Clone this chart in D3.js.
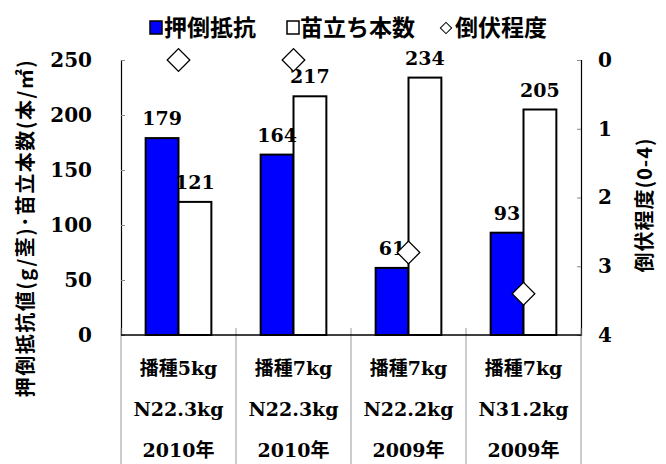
<!DOCTYPE html>
<html>
<head>
<meta charset="utf-8">
<script src="https://cdn.jsdelivr.net/npm/d3@7"></script>
<style>
  body { margin: 0; background: #fff; }
</style>
</head>
<body>
<script>
// data
var cats = ["c1", "c2", "c3", "c4"];
var row1 = ["播種5kg", "播種7kg", "播種7kg", "播種7kg"];
var row2 = ["N22.3kg", "N22.3kg", "N22.2kg", "N31.2kg"];
var row3 = ["2010年", "2010年", "2009年", "2009年"];
var oshitaoshi = [179, 164, 61, 93];   // 押倒抵抗
var naedachi = [121, 217, 234, 205];   // 苗立ち本数
var toufuku = [0, 0, 2.8, 3.4];        // 倒伏程度
var leftTicks = [0, 50, 100, 150, 200, 250];
var rightTicks = [0, 1, 2, 3, 4];

var W = 666, H = 464;
var plot = {left: 121, right: 581, top: 60, bottom: 335};
var serif = "'DejaVu Serif', 'Noto Sans CJK JP', serif";
var gothic = "'Noto Sans CJK JP', sans-serif";

var svg = d3.select("body").append("svg")
    .attr("width", W)
    .attr("height", H)
    .attr("font-weight", "bold");

var x = d3.scaleBand().domain(cats).range([plot.left, plot.right]);
var bw = x.bandwidth() / 3.5; // gap width 150%
var yL = d3.scaleLinear().domain([0, 250]).range([plot.bottom, plot.top]);
var yR = d3.scaleLinear().domain([0, 4]).range([plot.top, plot.bottom]); // reversed

// axes
var axL = d3.axisLeft(yL).tickValues(leftTicks).tickSize(-4).tickPadding(0).tickFormat(d3.format("d"));
var gL = svg.append("g").attr("transform", "translate(" + plot.left + ",0)").call(axL);
gL.attr("font-family", serif).attr("font-size", 20);
gL.select(".domain").attr("stroke", "#000").attr("stroke-width", 1.2);
gL.selectAll(".tick line").attr("stroke", "#888");
gL.selectAll(".tick text").attr("x", -29).attr("fill", "#000");

var axR = d3.axisRight(yR).tickValues(rightTicks).tickSize(-4).tickPadding(0).tickFormat(d3.format("d"));
var gR = svg.append("g").attr("transform", "translate(" + plot.right + ",0)").call(axR);
gR.attr("font-family", serif).attr("font-size", 20);
gR.select(".domain").attr("stroke", "#000").attr("stroke-width", 1.2);
gR.selectAll(".tick line").attr("stroke", "#888");
gR.selectAll(".tick text").attr("x", 17).attr("fill", "#000");

// category separators (multi-level labels)
var seps = [plot.left].concat(cats.map(function(c){ return x(c) + x.bandwidth(); }));
svg.selectAll(".sep").data(seps).enter().append("line")
    .attr("x1", function(d){ return d; }).attr("x2", function(d){ return d; })
    .attr("y1", plot.bottom - 7).attr("y2", H)
    .attr("stroke", "#999").attr("stroke-width", 1);
svg.append("line")
    .attr("x1", plot.left).attr("x2", plot.right)
    .attr("y1", plot.bottom).attr("y2", plot.bottom)
    .attr("stroke", "#000").attr("stroke-width", 1.5);

// bars
var g = svg.append("g");
g.selectAll(".b1").data(oshitaoshi).enter().append("rect")
    .attr("x", function(d, i){ return x(cats[i]) + x.bandwidth() / 2 - bw; })
    .attr("y", function(d){ return yL(d); })
    .attr("width", bw).attr("height", function(d){ return plot.bottom - yL(d); })
    .attr("fill", "#0000ff").attr("stroke", "#000").attr("stroke-width", 2);
g.selectAll(".b2").data(naedachi).enter().append("rect")
    .attr("x", function(d, i){ return x(cats[i]) + x.bandwidth() / 2; })
    .attr("y", function(d){ return yL(d); })
    .attr("width", bw).attr("height", function(d){ return plot.bottom - yL(d); })
    .attr("fill", "#fff").attr("stroke", "#000").attr("stroke-width", 2);

// value labels
g.selectAll(".l1").data(oshitaoshi).enter().append("text")
    .attr("x", function(d, i){ return x(cats[i]) + x.bandwidth() / 2 - bw / 2; })
    .attr("y", function(d){ return yL(d) - 13; })
    .attr("text-anchor", "middle").attr("font-family", serif).attr("font-size", 19)
    .text(function(d){ return d; });
g.selectAll(".l2").data(naedachi).enter().append("text")
    .attr("x", function(d, i){ return x(cats[i]) + x.bandwidth() / 2 + bw / 2; })
    .attr("y", function(d){ return yL(d) - 13; })
    .attr("text-anchor", "middle").attr("font-family", serif).attr("font-size", 19)
    .text(function(d){ return d; });

// diamonds
var sym = d3.symbol().type(d3.symbolSquare).size(16 * 16);
g.selectAll(".dm").data(toufuku).enter().append("path")
    .attr("d", sym)
    .attr("transform", function(d, i){
        return "translate(" + (x(cats[i]) + x.bandwidth() / 2) + "," + yR(d) + ") rotate(45)";
    })
    .attr("fill", "#fff").attr("stroke", "#000").attr("stroke-width", 1.3);

// category labels
[row1, row2, row3].forEach(function(row, k){
    svg.selectAll(".r" + k).data(row).enter().append("text")
        .attr("x", function(d, i){ return x(cats[i]) + x.bandwidth() / 2; })
        .attr("y", 375 + k * 41)
        .attr("text-anchor", "middle").attr("font-family", serif).attr("font-size", 19)
        .text(function(d){ return d; });
});

// axis titles
svg.append("text")
    .attr("transform", "translate(33,228) rotate(-90)")
    .attr("text-anchor", "middle").attr("font-family", gothic).attr("font-size", 20)
    .attr("letter-spacing", 1.5)
    .text("押倒抵抗値(g/茎)･苗立本数(本/㎡)");
svg.append("text")
    .attr("transform", "translate(652,205) rotate(-90)")
    .attr("text-anchor", "middle").attr("font-family", gothic).attr("font-size", 20)
    .attr("letter-spacing", 1)
    .text("倒伏程度(0-4)");

// legend
var lg = svg.append("g").attr("font-family", gothic).attr("font-size", 23);
lg.append("rect").attr("x", 150).attr("y", 21).attr("width", 12).attr("height", 13)
    .attr("fill", "#0000ff").attr("stroke", "#000").attr("stroke-width", 1.5);
lg.append("text").attr("x", 164).attr("y", 36).text("押倒抵抗");
lg.append("rect").attr("x", 287).attr("y", 21).attr("width", 12).attr("height", 13)
    .attr("fill", "#fff").attr("stroke", "#000").attr("stroke-width", 1.5);
lg.append("text").attr("x", 300).attr("y", 36).text("苗立ち本数");
lg.append("path").attr("d", d3.symbol().type(d3.symbolSquare).size(64))
    .attr("transform", "translate(446,28) rotate(45)")
    .attr("fill", "#fff").attr("stroke", "#000").attr("stroke-width", 1);
lg.append("text").attr("x", 455).attr("y", 36).text("倒伏程度");
</script>
</body>
</html>
